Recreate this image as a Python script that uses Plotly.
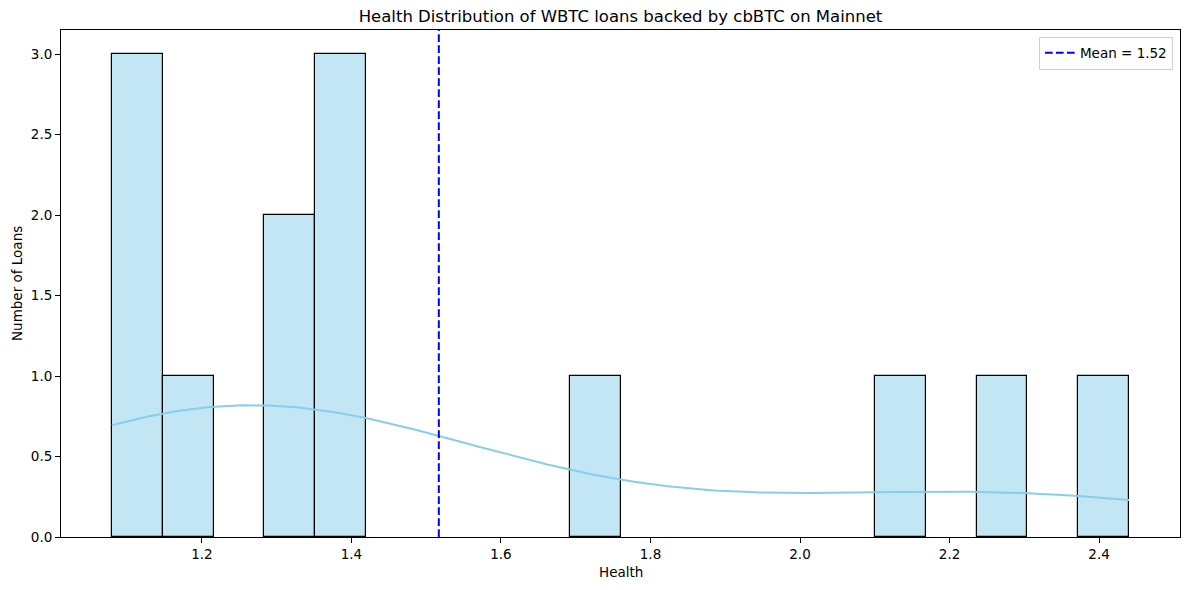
import numpy as np
import plotly.graph_objects as go

# ---- data ----
health = [1.0796, 1.09, 1.11, 1.16, 1.29, 1.32, 1.36, 1.38, 1.40,
          1.71, 2.12, 2.26, 2.4402]
n_bins = 20
x_ticks = [1.2, 1.4, 1.6, 1.8, 2.0, 2.2, 2.4]
y_ticks = [0.0, 0.5, 1.0, 1.5, 2.0, 2.5, 3.0]
title = "Health Distribution of WBTC loans backed by cbBTC on Mainnet"
x_label = "Health"
y_label = "Number of Loans"

# ---- derived statistics ----
vals = np.array(health)
counts, edges = np.histogram(vals, bins=n_bins)
centers = (edges[:-1] + edges[1:]) / 2
binw = edges[1] - edges[0]
mean_val = vals.mean()
nz = counts > 0

# gaussian KDE (Scott's rule), scaled to counts like seaborn histplot
n = len(vals)
bw = vals.std(ddof=1) * n ** (-1 / 5)
grid = np.linspace(vals.min(), vals.max(), 300)
dens = np.exp(-0.5 * ((grid[:, None] - vals[None, :]) / bw) ** 2).sum(axis=1)
dens = dens / (n * bw * np.sqrt(2 * np.pi))
kde = dens * n * binw

xr = vals.max() - vals.min()
x_range = [vals.min() - 0.05 * xr, vals.max() + 0.05 * xr]
y_range = [0, counts.max() * 1.05]

FONT = "DejaVu Sans"

fig = go.Figure()
fig.add_trace(go.Bar(
    x=centers[nz], y=counts[nz], width=binw,
    marker=dict(color="rgb(195,230,244)", line=dict(color="black", width=1.2)),
    showlegend=False, hoverinfo="skip",
))
fig.add_trace(go.Scatter(
    x=grid, y=kde, mode="lines",
    line=dict(color="#87CEEB", width=2),
    showlegend=False, hoverinfo="skip",
))
fig.add_shape(
    type="line", x0=mean_val, x1=mean_val, y0=0, y1=1,
    xref="x", yref="y domain",
    line=dict(color="blue", width=2, dash="7.7px,3.3px"),
    showlegend=True, name=f"Mean = {mean_val:.2f}",
)

axis_common = dict(
    showgrid=False, zeroline=False,
    showline=True, mirror=True, linecolor="black", linewidth=1,
    ticks="outside", ticklen=5, tickwidth=1, tickcolor="black",
    tickfont=dict(family=FONT, size=13.5, color="black"),
)

fig.update_layout(
    width=1189, height=590,
    margin=dict(l=61, r=9, t=30, b=53),
    paper_bgcolor="white", plot_bgcolor="white",
    font=dict(family=FONT, color="black"),
    bargap=0,
    title=dict(
        text=title, x=0.5, xref="paper", xanchor="center",
        y=1 - 16 / 590, yref="container", yanchor="middle",
        font=dict(family=FONT, size=16.5, color="black"),
    ),
    xaxis=dict(range=x_range, tickvals=x_ticks,
               ticktext=[f"{v:.1f}" for v in x_ticks], **axis_common),
    yaxis=dict(range=y_range, tickvals=y_ticks,
               ticktext=[f"{v:.1f}" for v in y_ticks], **axis_common),
    legend=dict(
        x=0.9937, y=0.987, xanchor="right", yanchor="top",
        bgcolor="white", bordercolor="#d0d0d0", borderwidth=1,
        font=dict(family=FONT, size=13.5, color="black"),
        itemwidth=30,
    ),
    annotations=[
        dict(text=x_label, xref="paper", yref="paper", x=0.5, y=-35 / 507,
             xanchor="center", yanchor="middle", showarrow=False,
             font=dict(family=FONT, size=13.5, color="black")),
        dict(text=y_label, xref="paper", yref="paper", x=-44.5 / 1119, y=0.5,
             xanchor="center", yanchor="middle", showarrow=False, textangle=-90,
             font=dict(family=FONT, size=13.5, color="black")),
    ],
)

fig.write_html("out.html",
               config={"displayModeBar": False},
               post_script="document.body.style.margin='0';document.body.style.padding='0';")
